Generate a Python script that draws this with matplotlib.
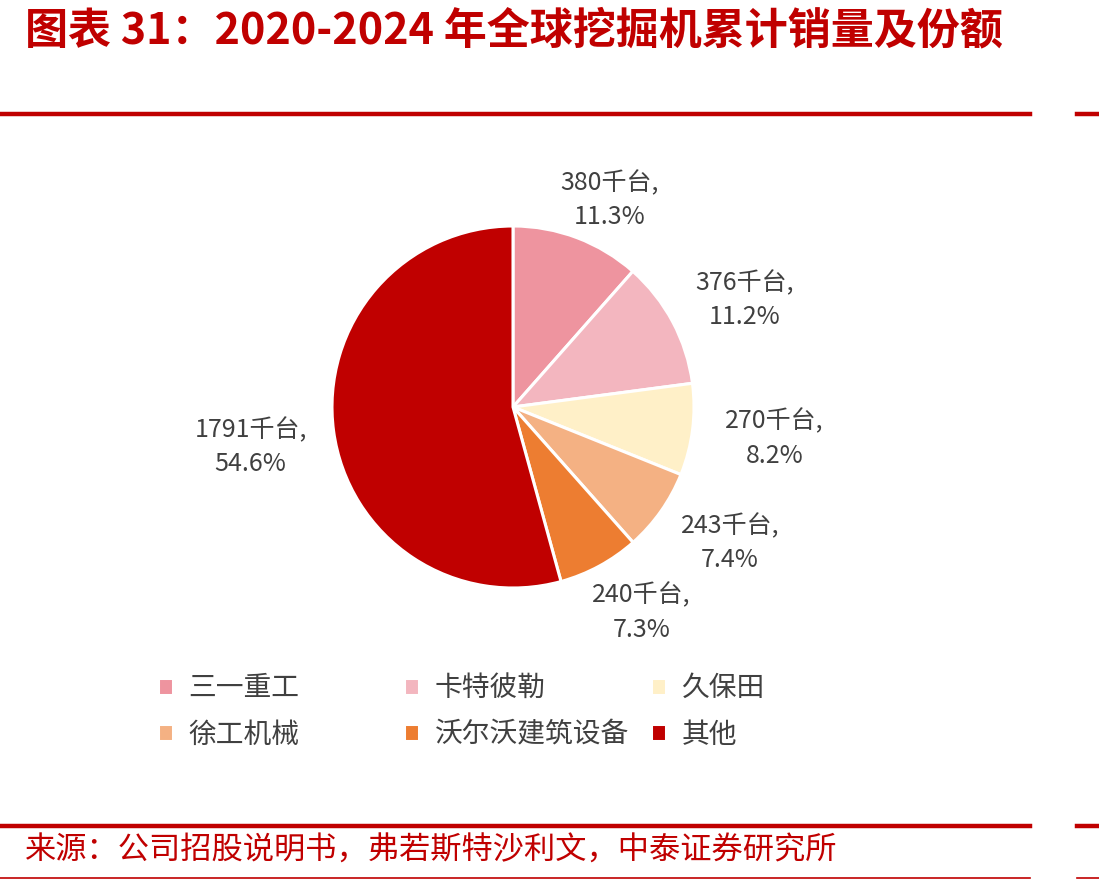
import numpy as np
import matplotlib
matplotlib.use("Agg")
from matplotlib import pyplot as plt
from matplotlib.lines import Line2D

plt.rcParams['font.family'] = ['Noto Sans CJK SC', 'DejaVu Sans']

### -------------------- Donnees ---------------------------- ###
brands = ["三一重工", "卡特彼勒", "久保田", "徐工机械", "沃尔沃建筑设备", "其他"]
sales = [380, 376, 270, 243, 240, 1791]          # 千台
shares = ["11.3%", "11.2%", "8.2%", "7.4%", "7.3%", "54.6%"]
colors = ["#EE949F", "#F3B6BF", "#FFF0C8", "#F4B183", "#ED7D31", "#C00000"]
# placement des etiquettes : distance (en rayons) et decalage angulaire (deg)
label_dist = [1.26, 1.41, 1.455, 1.415, 1.34, 1.467]
label_shift = [-4.3, -3.3, 0.3, 3.0, 3.5, 1.0]

title = "图表 31：2020-2024 年全球挖掘机累计销量及份额"
source = "来源：公司招股说明书，弗若斯特沙利文，中泰证券研究所"

RED = "#C00000"
TXT = "#404040"
W, H = 1099, 880

fig = plt.figure(figsize=(W / 100, H / 100), dpi=100)

# titre et source
fig.text(25 / W, 1 - 30 / H, title, color=RED, fontsize=31, fontweight='bold',
         style='italic', va='center', ha='left')
fig.text(25 / W, 1 - 851 / H, source, color=RED, fontsize=22.5, va='center', ha='left')

# lignes rouges
for y, lw in [(114, 3.2), (826, 3.2), (878, 1.2)]:
    yy = 1 - y / H
    fig.add_artist(Line2D([0, 1030 / W], [yy, yy], color=RED, lw=lw))
    fig.add_artist(Line2D([1077 / W, 1], [yy, yy], color=RED, lw=lw))

# camembert
cx, cy, r = 513, 407, 181
ax = fig.add_axes([(cx - r) / W, 1 - (cy + r) / H, 2 * r / W, 2 * r / H])
wedges, _ = ax.pie(sales, colors=colors, startangle=90, counterclock=False,
                   radius=1, wedgeprops=dict(edgecolor='white', linewidth=2.2))
ax.set_xlim(-1, 1)
ax.set_ylim(-1, 1)
ax.axis('off')

for w, v, s, d, sh in zip(wedges, sales, shares, label_dist, label_shift):
    ang = np.deg2rad((w.theta1 + w.theta2) / 2 + sh)
    ax.text(d * np.cos(ang), d * np.sin(ang), f"{v}千台,\n{s}", ha='center', va='center',
            fontsize=18, color=TXT, linespacing=1.4, clip_on=False)

# legende : trois colonnes independantes
col_x = [158, 404, 651]
for i, x in enumerate(col_x):
    idx = [i, i + 3]
    fig.legend([wedges[k] for k in idx], [brands[k] for k in idx],
               loc='upper left', bbox_to_anchor=(x / W, 1 - 673 / H),
               frameon=False, fontsize=20, handlelength=0.55, handleheight=0.55,
               handletextpad=0.55, labelspacing=0.6, borderpad=0, borderaxespad=0,
               labelcolor=TXT)

fig.savefig("out.png", dpi=100)
